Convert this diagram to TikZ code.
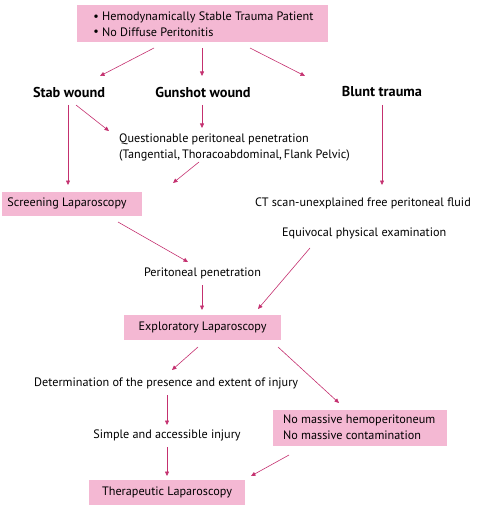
\documentclass[tikz,border=0pt]{standalone}
\usepackage{fontspec}
\setmainfont{PT Sans}
\usetikzlibrary{arrows.meta}
\definecolor{boxpink}{HTML}{F4B8D3}
\definecolor{arrowc}{HTML}{C4306F}
\begin{document}
\begin{tikzpicture}[x=1pt,y=-1pt,
  txt/.style={inner sep=0pt,font=\fontsize{12.2}{14}\selectfont},
  btxt/.style={inner sep=0pt,font=\fontsize{14.3}{16}\selectfont\bfseries},
  pbox/.style={fill=boxpink,inner sep=0pt},
  arr/.style={draw=arrowc,line width=0.6pt,-{Triangle[length=4.5pt,width=4pt]}}]
\useasboundingbox (0,0) rectangle (476,505);
% top box
\node[pbox,minimum width=251,minimum height=37,anchor=north west] (top) at (77,5) {};
\node[txt,anchor=west] (t1) at (102,17.5) {Hemodynamically Stable Trauma Patient};
\node[txt,anchor=west] (t2) at (102,32) {No Diffuse Peritonitis};
\node[txt,anchor=east] (b1) at (99,18) {\textbullet};
\node[txt,anchor=east] (b2) at (99,32.5) {\textbullet};
% second level
\node[btxt] (stab) at (69,92) {Stab wound};
\node[btxt] (gun) at (203,92) {Gunshot wound};
\node[btxt] (blunt) at (382,92) {Blunt trauma};
\coordinate (topL) at (154,48);
\coordinate (topM) at (202,48);
\coordinate (topR) at (250,48);
\coordinate (stabT) at (100,76);
\coordinate (gunT) at (202,76);
\coordinate (bluntT) at (305,76);
\draw[arr] (topL) -- (stabT);
\draw[arr] (topM) -- (gunT);
\draw[arr] (topR) -- (bluntT);
% questionable
\node[txt,anchor=west] (q1) at (119,139) {Questionable peritoneal penetration};
\node[txt,anchor=west] (q2) at (119,155) {(Tangential,\,Thoracoabdominal,\,Flank Pelvic)};
\coordinate (stabB) at (68,105);
\coordinate (stabD) at (76,105);
\coordinate (qT) at (109,131);
\coordinate (gunB) at (202,105);
\coordinate (qTm) at (202,128);
\draw[arr] (stabD) -- (qT);
\draw[arr] (gunB) -- (qTm);
% screening
\node[pbox,minimum width=140,minimum height=24,anchor=north west] (scr) at (2,192) {};
\node[txt] (scrt) at (67,203.5) {Screening Laparoscopy};
\coordinate (scrT) at (68,185);
\draw[arr] (stabB) -- (scrT);
\coordinate (qB) at (199,162);
\coordinate (scrTR) at (173,183);
\draw[arr] (qB) -- (scrTR);
% blunt branch
\node[txt,anchor=west] (ct) at (255,203.5) {CT scan-unexplained free peritoneal fluid};
\coordinate (bluntB) at (382,105);
\coordinate (ctT) at (382,185);
\draw[arr] (bluntB) -- (ctT);
\node[txt,anchor=west] (eq) at (282,233) {Equivocal physical examination};
% peritoneal penetration
\node[txt] (pp) at (202.5,273) {Peritoneal penetration};
\coordinate (scrB) at (118,222);
\coordinate (ppT) at (188,262);
\draw[arr] (scrB) -- (ppT);
% exploratory
\node[pbox,minimum width=157,minimum height=25,anchor=north west] (exp) at (124,315) {};
\node[txt] (expt) at (202.5,327.5) {Exploratory Laparoscopy};
\coordinate (ppB) at (202,285);
\coordinate (expT) at (202,310);
\draw[arr] (ppB) -- (expT);
\coordinate (eqB) at (310,248);
\coordinate (expTR) at (258,309);
\draw[arr] (eqB) -- (expTR);
% determination
\node[txt,anchor=west] (det) at (34,383) {Determination of the presence and extent of injury};
\coordinate (expBL) at (198,347);
\coordinate (detT) at (172,370);
\draw[arr] (expBL) -- (detT);
% no massive
\node[pbox,minimum width=174,minimum height=36,anchor=north west] (nm) at (273,410) {};
\node[txt,anchor=west] (nm1) at (283,420) {No massive hemoperitoneum};
\node[txt,anchor=west] (nm2) at (283,435) {No massive contamination};
\coordinate (expBR) at (278,347);
\coordinate (nmT) at (339,403);
\draw[arr] (expBR) -- (nmT);
% simple
\node[txt] (sim) at (167,435) {Simple and accessible injury};
\coordinate (detB) at (167,395);
\coordinate (simT) at (167,425);
\draw[arr] (detB) -- (simT);
% therapeutic
\node[pbox,minimum width=156,minimum height=25,anchor=north west] (th) at (89,480) {};
\node[txt] (tht) at (167,492) {Therapeutic Laparoscopy};
\coordinate (simB) at (167,447);
\coordinate (thT) at (167,476);
\draw[arr] (simB) -- (thT);
\coordinate (nmB) at (289,455);
\coordinate (thTR) at (251,476);
\draw[arr] (nmB) -- (thTR);
\end{tikzpicture}
\end{document}
